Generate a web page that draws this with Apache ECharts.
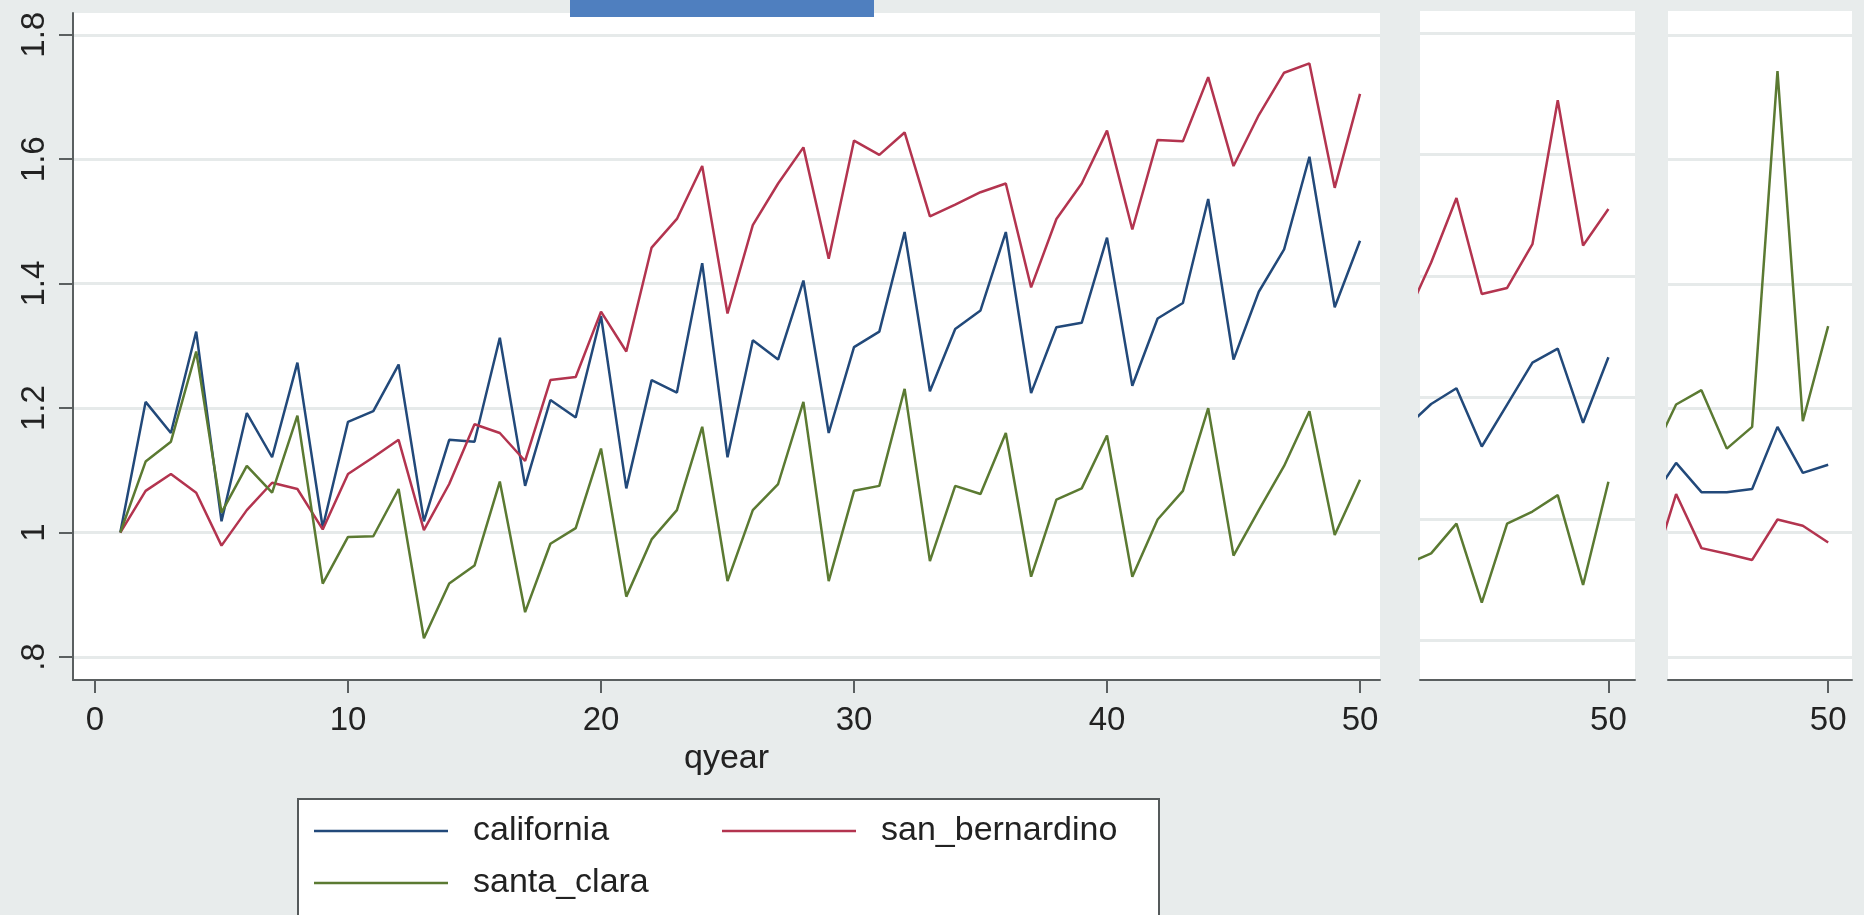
<!DOCTYPE html>
<html>
<head>
<meta charset="utf-8">
<script src="https://cdn.jsdelivr.net/npm/echarts@6/dist/echarts.min.js"></script>
<style>
  html, body { margin: 0; padding: 0; background: #e8ecec; }
  #chart { width: 1864px; height: 915px; }
</style>
</head>
<body>
<div id="chart"></div>
<script>
// Quarterly index (base quarter = 1.0) for three regions
const qyear = [1,2,3,4,5,6,7,8,9,10,11,12,13,14,15,16,17,18,19,20,21,22,23,24,25,
               26,27,28,29,30,31,32,33,34,35,36,37,38,39,40,41,42,43,44,45,46,47,48,49,50];

const california = [1.000,1.210,1.160,1.323,1.018,1.192,1.121,1.273,1.008,1.178,
                    1.195,1.270,1.018,1.149,1.146,1.313,1.075,1.213,1.185,1.348,
                    1.071,1.245,1.225,1.433,1.121,1.309,1.278,1.405,1.160,1.298,
                    1.323,1.483,1.227,1.327,1.357,1.483,1.224,1.330,1.337,1.474,
                    1.236,1.344,1.369,1.536,1.278,1.387,1.455,1.604,1.362,1.469];

const san_bernardino = [1.000,1.067,1.094,1.064,0.979,1.036,1.080,1.070,1.005,1.094,
                        1.121,1.149,1.004,1.078,1.174,1.160,1.115,1.245,1.250,1.355,
                        1.291,1.458,1.504,1.589,1.352,1.494,1.561,1.619,1.440,1.630,
                        1.607,1.643,1.508,1.527,1.547,1.561,1.394,1.504,1.561,1.646,
                        1.487,1.631,1.629,1.732,1.589,1.671,1.739,1.754,1.554,1.705];

const santa_clara = [1.000,1.114,1.146,1.291,1.032,1.107,1.064,1.188,0.918,0.993,
                     0.994,1.070,0.830,0.918,0.947,1.082,0.872,0.982,1.007,1.135,
                     0.897,0.989,1.036,1.170,0.922,1.036,1.078,1.210,0.922,1.067,
                     1.075,1.231,0.954,1.075,1.062,1.160,0.929,1.053,1.071,1.156,
                     0.929,1.021,1.067,1.200,0.963,1.036,1.107,1.195,0.996,1.085];

// Two narrow side panels: the last quarters of two further comparisons
const panelB_qyear = [42,43,44,45,46,47,48,49,50];
const panelB_navy   = [1.150,1.189,1.215,1.119,1.188,1.257,1.280,1.158,1.266];
const panelB_maroon = [1.330,1.422,1.528,1.370,1.380,1.452,1.689,1.450,1.510];
const panelB_green  = [0.925,0.943,0.992,0.862,0.992,1.012,1.039,0.891,1.061];

const panelC_qyear = [43,44,45,46,47,48,49,50];
const panelC_navy   = [1.051,1.112,1.065,1.065,1.070,1.170,1.096,1.109];
const panelC_maroon = [0.930,1.062,0.975,0.966,0.956,1.021,1.011,0.984];
const panelC_green  = [1.121,1.206,1.229,1.135,1.170,1.742,1.179,1.332];

// Axis ticks
const xTicks = [0,10,20,30,40,50];
const panelXTicks = [50];
const yTicks = [0.8,1.0,1.2,1.4,1.6,1.8];

const NAVY = '#22497a';
const MAROON = '#b3344f';
const GREEN = '#5b7a32';
const FONT = 'Liberation Sans, Arial, sans-serif';

function zip(xs, ys) { return xs.map((x, i) => [x, ys[i]]); }

// Stata-style number format: 0.8 -> ".8"
function stataNum(v) {
  let s = String(+(+v).toFixed(2));
  if (s.startsWith('0.')) s = s.slice(1);
  return s;
}

const axisLineStyle = { color: '#5a5f60', width: 2 };
const gridLine = { show: true, lineStyle: { color: '#e6eaea', width: 3 } };

function lineSeries(name, data, color, idx) {
  return {
    name: name, type: 'line', data: data,
    xAxisIndex: idx, yAxisIndex: idx,
    symbol: 'none', showSymbol: false, clip: true,
    lineStyle: { color: color, width: 2.5 },
    itemStyle: { color: color },
    emphasis: { disabled: true },
    silent: idx !== 0
  };
}

function panelX(idx, min, max, ticks, showName) {
  return {
    type: 'value', gridIndex: idx, min: min, max: max,
    axisLine: { show: true, onZero: false, lineStyle: axisLineStyle },
    axisTick: { show: true, length: 13, customValues: ticks, lineStyle: axisLineStyle },
    axisLabel: { customValues: ticks, fontSize: 33, color: '#222', margin: 24, fontFamily: FONT },
    splitLine: { show: false },
    name: showName ? 'qyear' : '',
    nameLocation: 'middle', nameGap: 53,
    nameTextStyle: { fontSize: 34, color: '#222', fontFamily: FONT }
  };
}

function panelY(idx, min, max, showAxis) {
  return {
    type: 'value', gridIndex: idx, min: min, max: max,
    axisLine: { show: showAxis, onZero: false, lineStyle: axisLineStyle },
    axisTick: { show: showAxis, length: 14, customValues: yTicks, lineStyle: axisLineStyle },
    axisLabel: {
      show: showAxis, customValues: yTicks, rotate: 90, margin: 22,
      fontSize: 33, color: '#222', fontFamily: FONT, formatter: stataNum
    },
    splitLine: gridLine
  };
}

const chart = echarts.init(document.getElementById('chart'), null, { renderer: 'canvas' });

chart.setOption({
  backgroundColor: '#e8ecec',
  animation: false,
  textStyle: { fontFamily: FONT },
  grid: [
    { left: 73,   top: 13, width: 1307, height: 667, show: true, backgroundColor: '#ffffff', borderWidth: 0, outerBoundsMode: 'none' },
    { left: 1420, top: 11, width: 215,  height: 669, show: true, backgroundColor: '#ffffff', borderWidth: 0, outerBoundsMode: 'none' },
    { left: 1668, top: 11, width: 184,  height: 669, show: true, backgroundColor: '#ffffff', borderWidth: 0, outerBoundsMode: 'none' }
  ],
  xAxis: [
    panelX(0, -0.87, 50.79, xTicks, true),
    panelX(1, 42.56, 51.05, panelXTicks, false),
    panelX(2, 43.68, 50.94, panelXTicks, false)
  ],
  yAxis: [
    panelY(0, 0.763, 1.835, true),
    panelY(1, 0.7346, 1.836, false),
    panelY(2, 0.763, 1.8386, false)
  ],
  legend: {
    data: ['california', 'san_bernardino', 'santa_clara'],
    left: 298, top: 799, width: 830,
    orient: 'horizontal',
    padding: [12, 41, 40, 16],
    icon: 'rect',
    itemWidth: 134, itemHeight: 2.5, itemGap: 12,
    backgroundColor: '#ffffff',
    borderColor: '#555a5b', borderWidth: 2,
    selectedMode: false,
    textStyle: {
      fontSize: 34, color: '#222', fontFamily: FONT,
      width: 237, lineHeight: 40, padding: [0, 0, 0, 20]
    }
  },
  graphic: [
    { type: 'rect', left: 570, top: 0, z: 100,
      shape: { width: 304, height: 17 },
      style: { fill: '#4f7fbf' } }
  ],
  series: [
    lineSeries('california', zip(qyear, california), NAVY, 0),
    lineSeries('san_bernardino', zip(qyear, san_bernardino), MAROON, 0),
    lineSeries('santa_clara', zip(qyear, santa_clara), GREEN, 0),
    lineSeries('panelB_navy', zip(panelB_qyear, panelB_navy), NAVY, 1),
    lineSeries('panelB_maroon', zip(panelB_qyear, panelB_maroon), MAROON, 1),
    lineSeries('panelB_green', zip(panelB_qyear, panelB_green), GREEN, 1),
    lineSeries('panelC_navy', zip(panelC_qyear, panelC_navy), NAVY, 2),
    lineSeries('panelC_maroon', zip(panelC_qyear, panelC_maroon), MAROON, 2),
    lineSeries('panelC_green', zip(panelC_qyear, panelC_green), GREEN, 2)
  ]
});
</script>
</body>
</html>
